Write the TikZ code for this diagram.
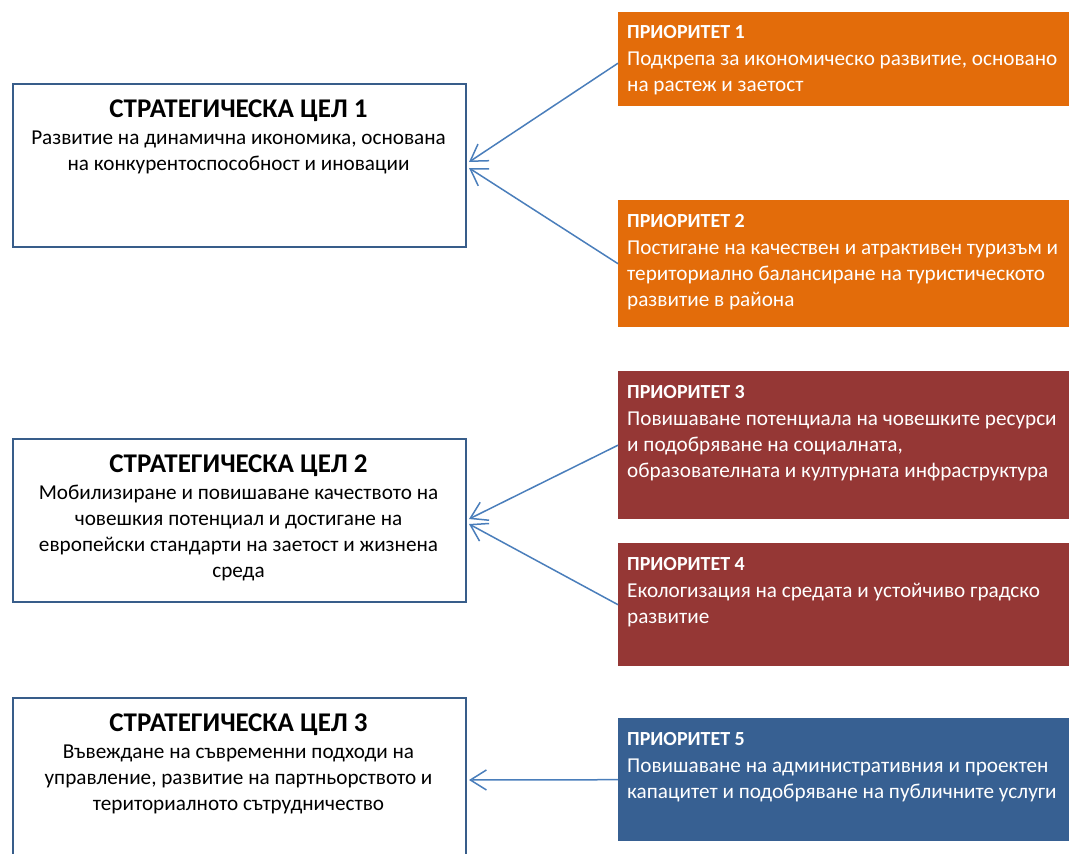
\documentclass[tikz,border=0pt]{standalone}
\usepackage{fontspec}
\setmainfont{Carlito}
\usetikzlibrary{arrows.meta}
\definecolor{orangeP}{HTML}{E36C0A}
\definecolor{redP}{HTML}{953735}
\definecolor{blueP}{HTML}{376092}
\definecolor{frameC}{HTML}{385D8A}
\definecolor{connC}{HTML}{4A7EBB}
\newcommand{\gltitle}[1]{{\fontsize{27}{26}\selectfont\bfseries\rule{0pt}{21pt}#1}\\[1pt]}
\newcommand{\prtitle}[1]{{\fontsize{20}{26}\selectfont\bfseries\rule{0pt}{15pt}#1}\\[1pt]}
\begin{document}
\begin{tikzpicture}[x=1pt,y=-1pt,
  goal/.style={draw=frameC, line width=2pt, fill=white, minimum width=453pt, anchor=north west, inner sep=0pt},
  prio/.style={fill=#1, draw=none, minimum width=470pt, anchor=north west, inner sep=0pt},
  gtext/.style={anchor=north, inner sep=0pt, align=center, font=\fontsize{21.2}{26}\selectfont},
  ptext/.style={anchor=north west, inner sep=0pt, align=left, text=white, font=\fontsize{21.2}{26}\selectfont},
  link/.style={draw=connC, line width=1.5pt, -{Straight Barb[length=16pt,width=20pt,line width=1.5pt]}}
]
\useasboundingbox (0,0) rectangle (1069,854);

% strategic goals
\node[goal, minimum height=163pt] (g1) at (12,83) {};
\node[goal, minimum height=163pt] (g2) at (12,438) {};
\node[goal, minimum height=164pt] (g3) at (12,697) {};

\node[gtext] (g1t) at (238.5,96) {\gltitle{СТРАТЕГИЧЕСКА ЦЕЛ 1}Развитие на динамична икономика, основана\\на конкурентоспособност и иновации};
\node[gtext] (g2t) at (238.5,451) {\gltitle{СТРАТЕГИЧЕСКА ЦЕЛ 2}Мобилизиране и повишаване качеството на\\човешкия потенциал и достигане на\\европейски стандарти на заетост и жизнена\\среда};
\node[gtext] (g3t) at (238.5,710) {\gltitle{СТРАТЕГИЧЕСКА ЦЕЛ 3}Въвеждане на съвременни подходи на\\управление, развитие на партньорството и\\териториалното сътрудничество};

% priorities
\node[prio=orangeP, minimum height=94pt] (p1) at (618,12) {};
\node[prio=orangeP, minimum height=127pt] (p2) at (618,200) {};
\node[prio=redP, minimum height=148pt] (p3) at (618,371) {};
\node[prio=redP, minimum height=123pt] (p4) at (618,543) {};
\node[prio=blueP, minimum height=123pt] (p5) at (618,718) {};

\node[ptext] (p1t) at (627,23) {\prtitle{ПРИОРИТЕТ 1}Подкрепа за икономическо развитие, основано\\на растеж и заетост};
\node[ptext] (p2t) at (627,212) {\prtitle{ПРИОРИТЕТ 2}Постигане на качествен и атрактивен туризъм и\\териториално балансиране на туристическото\\развитие в района};
\node[ptext] (p3t) at (627,383) {\prtitle{ПРИОРИТЕТ 3}Повишаване потенциала на човешките ресурси\\и подобряване на социалната,\\образователната и културната инфраструктура};
\node[ptext] (p4t) at (627,555) {\prtitle{ПРИОРИТЕТ 4}Екологизация на средата и устойчиво градско\\развитие};
\node[ptext] (p5t) at (627,730) {\prtitle{ПРИОРИТЕТ 5}Повишаване на административния и проектен\\капацитет и подобряване на публичните услуги};

% connectors
\draw[link] ([yshift=-4pt]p1.west) -- ([xshift=2pt,yshift=3.5pt]g1.east);
\draw[link] (p2.west) -- ([xshift=2pt,yshift=-2.5pt]g1.east);
\draw[link] (p3.west) -- ([xshift=2pt,yshift=1.5pt]g2.east);
\draw[link] (p4.west) -- ([xshift=2pt,yshift=-3.5pt]g2.east);
\draw[link] (p5.west) -- ([xshift=2pt]g3.east);
\end{tikzpicture}
\end{document}
